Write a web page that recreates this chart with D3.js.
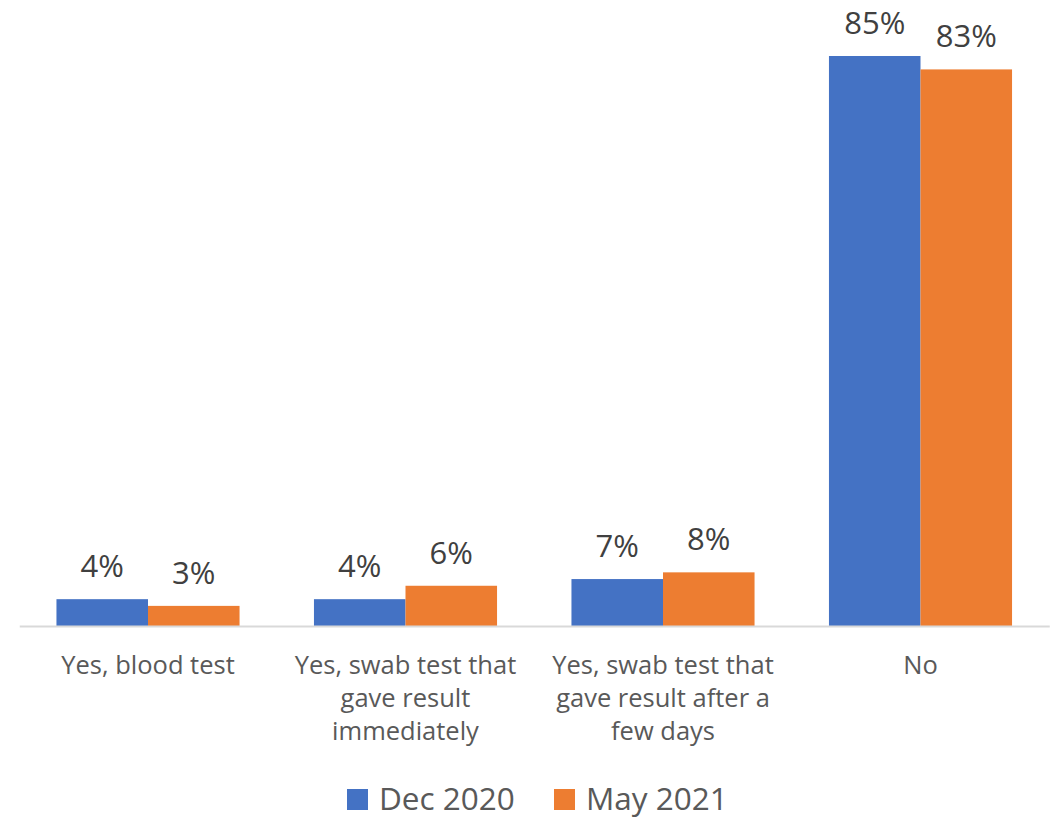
<!DOCTYPE html>
<html>
<head>
<meta charset="utf-8">
<script src="https://cdn.jsdelivr.net/npm/d3@7"></script>
<style>
  html, body { margin: 0; padding: 0; background: #fff; }
  svg { display: block; font-family: "Open Sans", sans-serif; }
</style>
</head>
<body>
<svg id="chart" width="1056" height="818"></svg>
<script>
// Survey answers and the two waves
const categories = [
  ["Yes, blood test"],
  ["Yes, swab test that", "gave result", "immediately"],
  ["Yes, swab test that", "gave result after a", "few days"],
  ["No"]
];
const seriesNames = ["Dec 2020", "May 2021"];
const dec2020 = [4, 4, 7, 85];
const may2021 = [3, 6, 8, 83];
const seriesColors = ["#4472C4", "#ED7D31"];

const svg = d3.select("#chart");
const catKeys = categories.map((c, i) => i);
const values = [dec2020, may2021];

const x0 = d3.scaleBand()
  .domain(catKeys)
  .range([19.25, 1049.25])
  .paddingInner(0.289)
  .paddingOuter(0.1445);

const x1 = d3.scaleBand()
  .domain(seriesNames)
  .range([0, x0.bandwidth()]);

const y = d3.scaleLinear()
  .domain([0, 85])
  .range([626, 56]);

// bars
const groups = svg.append("g").selectAll("g")
  .data(catKeys)
  .join("g")
  .attr("transform", d => `translate(${x0(d)},0)`);

groups.selectAll("rect")
  .data(ci => seriesNames.map((s, si) => ({ s, si, v: values[si][ci] })))
  .join("rect")
  .attr("x", d => x1(d.s))
  .attr("width", x1.bandwidth())
  .attr("y", d => y(d.v))
  .attr("height", d => y(0) - y(d.v))
  .attr("fill", d => seriesColors[d.si]);

// value labels
groups.selectAll("text")
  .data(ci => seriesNames.map((s, si) => ({ s, si, v: values[si][ci] })))
  .join("text")
  .attr("x", d => x1(d.s) + x1.bandwidth() / 2)
  .attr("y", d => y(d.v) - 22)
  .attr("text-anchor", "middle")
  .attr("font-size", 31)
  .attr("fill", "#404040")
  .text(d => d.v + "%");

// category axis
const axis = svg.append("g").attr("transform", `translate(0,${y(0)})`)
  .call(d3.axisBottom(x0).tickSize(0).tickFormat(""));
axis.select(".domain").attr("stroke", "#D9D9D9").attr("stroke-width", 2);

const catLabels = svg.append("g").selectAll("text")
  .data(catKeys)
  .join("text")
  .attr("x", d => x0(d) + x0.bandwidth() / 2)
  .attr("y", 674)
  .attr("text-anchor", "middle")
  .attr("font-size", 25.5)
  .attr("fill", "#595959");

catLabels.selectAll("tspan")
  .data(d => categories[d])
  .join("tspan")
  .attr("x", function () { return d3.select(this.parentNode).attr("x"); })
  .attr("dy", (d, i) => i === 0 ? 0 : 33)
  .text(d => d);

// legend
const legendX = [347, 554];
const legend = svg.append("g").selectAll("g")
  .data(seriesNames)
  .join("g")
  .attr("transform", (d, i) => `translate(${legendX[i]},789)`);

legend.append("rect")
  .attr("width", 21)
  .attr("height", 21)
  .attr("fill", (d, i) => seriesColors[i]);

legend.append("text")
  .attr("x", 32)
  .attr("y", 21)
  .attr("font-size", 31.5)
  .attr("fill", "#595959")
  .text(d => d);
</script>
</body>
</html>
